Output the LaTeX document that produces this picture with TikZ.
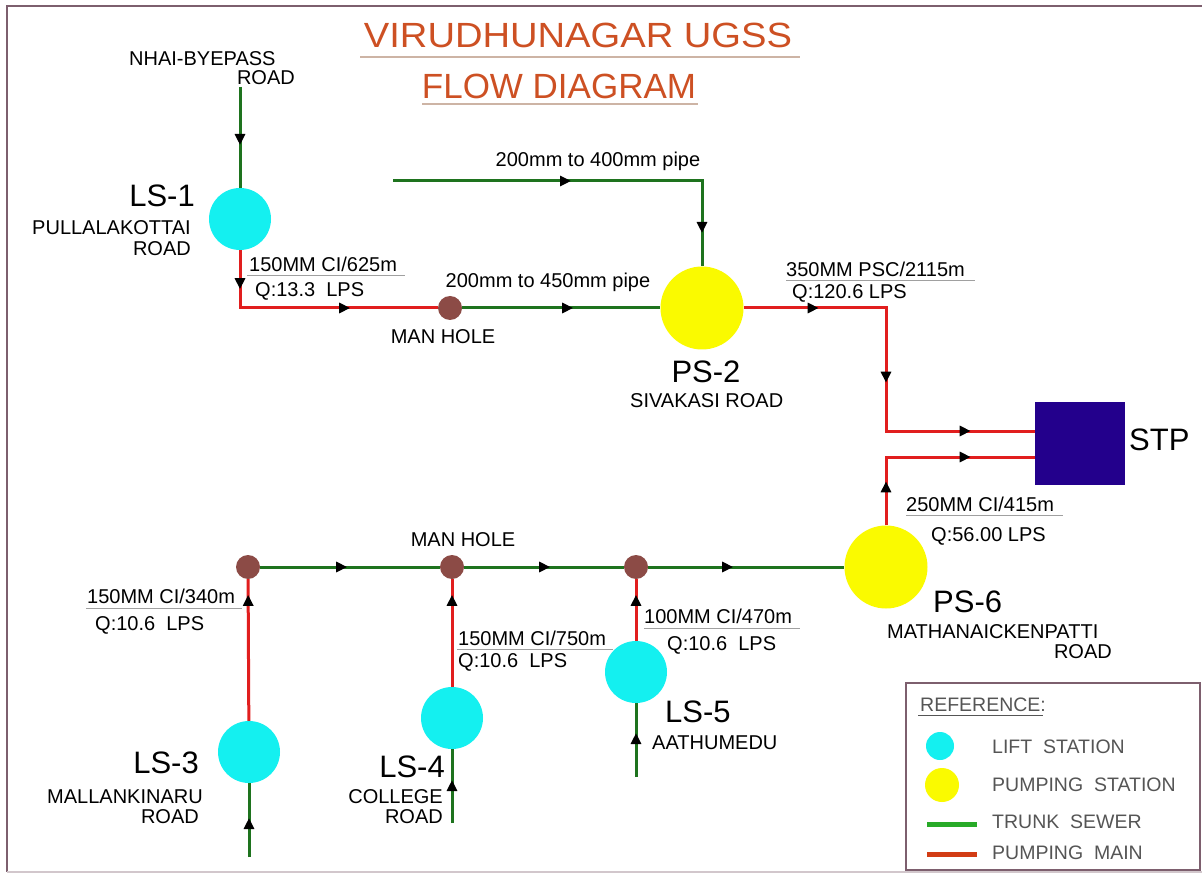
\documentclass[tikz,border=0pt]{standalone}
\usepackage{fontspec}
\usepackage{graphicx}
\setmainfont{Liberation Sans}
\usetikzlibrary{decorations.markings,arrows.meta}
\definecolor{trunkc}{RGB}{30,115,30}
\definecolor{mainc}{RGB}{225,30,30}
\definecolor{liftc}{RGB}{20,240,240}
\definecolor{pumpc}{RGB}{250,250,0}
\definecolor{holec}{RGB}{140,75,70}
\definecolor{stpc}{RGB}{35,0,140}
\definecolor{titlec}{RGB}{205,80,35}
\definecolor{tulc}{RGB}{205,180,165}
\definecolor{ulc}{RGB}{160,160,160}
\definecolor{framec}{RGB}{125,95,110}
\definecolor{legtext}{RGB}{85,85,85}
\definecolor{legg}{RGB}{40,170,40}
\definecolor{legr}{RGB}{210,60,20}
\newcommand\fsz[1]{\fontsize{#1}{#1}\selectfont}
\begin{document}
\begin{tikzpicture}[x=1pt,y=-1pt,
 pipe/.style={line width=3pt},
 trunk/.style={pipe,draw=trunkc},
 pmain/.style={pipe,draw=mainc},
 mk/.style={postaction={decorate,decoration={markings,mark=at position #1 with {\arrow{Triangle[length=11pt,width=10pt,color=black]}}}}},
 lift/.style={circle,fill=liftc,minimum size=62pt,inner sep=0pt},
 pump/.style={circle,fill=pumpc,minimum size=83pt,inner sep=0pt},
 hole/.style={circle,fill=holec,minimum size=24pt,inner sep=0pt},
 lbl/.style={inner sep=0pt,font=\fsz{20}},
 big/.style={inner sep=0pt,font=\fsz{31}},
 ttl/.style={inner sep=0pt,font=\fsz{35},text=titlec},
 leg/.style={inner sep=0pt,font=\fsz{19.5},text=legtext},
 uline/.style={draw=ulc,line width=1pt},
 tline/.style={draw=tulc,line width=1.2pt},
]
\useasboundingbox (0,0) rectangle (1202,874);
\fill[white] (0,0) rectangle (1202,874);
% frame
\draw[framec,line width=2pt] (1202,6) -- (7,6) -- (7,872);
\draw[framec!35,line width=1.5pt] (7,872) -- (1202,872);

% title
\node[ttl,anchor=base] (title1) at (578,48) {\scalebox{1.09}[1]{VIRUDHUNAGAR UGSS}};
\draw[tline] (360,57) -- (800,57);
\node[ttl,anchor=base] (title2) at (559,99) {FLOW DIAGRAM};
\draw[tline] (422,104) -- (698,104);

% stations
\node[lift] (ls1) at (240,219) {};
\node[hole] (mh1) at (450,308) {};
\node[pump] (ps2) at (702,308) {};
\node[fill=stpc,minimum width=90pt,minimum height=83pt,inner sep=0pt] (stp) at (1080,443.5) {};
\node[pump] (ps6) at (886,567) {};
\node[hole] (mhA) at (248,567) {};
\node[hole] (mhB) at (452,567) {};
\node[hole] (mhC) at (636,567) {};
\node[lift] (ls3) at (249,752) {};
\node[lift] (ls4) at (452,718) {};
\node[lift] (ls5) at (636,672) {};

\coordinate (nhai) at (240,87);
\coordinate (c1) at (240,308);
\coordinate (g2s) at (393,181);
\coordinate (g2c) at (702,181);
\coordinate (c2) at (886,308);
\coordinate (in1) at ([yshift=12.5pt]stp.west);
\coordinate (in2) at ([yshift=-13.5pt]stp.west);
\coordinate (b3) at (249,857);
\coordinate (b4) at (452,823);
\coordinate (b5) at (636,777);

% connectors
\draw[trunk,mk=58pt] (nhai) -- (ls1);
\draw[pmain,mk=39pt,mk=168pt] (ls1) -- (c1) -- (mh1);
\draw[trunk,mk=111pt] (mh1) -- (ps2);
\draw[trunk,mk=178pt,mk=361pt] (g2s) -- (g2c) -- (ps2);
\draw[pmain,mk=75pt,mk=217pt,mk=350pt] (ps2) -- (c2) |- (in1);
\draw[pmain,mk=44pt,mk=153pt] (ps6) |- (in2);
\draw[trunk,mk=87pt] (mhA) -- (mhB);
\draw[trunk,mk=86pt] (mhB) -- (mhC);
\draw[trunk,mk=85pt] (mhC) -- (ps6);
\draw[pmain,mk=126pt] (ls3) -- (mhA);
\draw[trunk,mk=39pt] (b3) -- (ls3);
\draw[pmain,mk=92pt] (ls4) -- (mhB);
\draw[trunk,mk=43pt] (b4) -- (ls4);
\draw[pmain,mk=46pt] (ls5) -- (mhC);
\draw[trunk,mk=44pt] (b5) -- (ls5);

% labels
\node[lbl,anchor=base west] (tnhai) at (129,66) {NHAI-BYEPASS};
\node[lbl,anchor=base east] (tnhaib) at (295,85) {ROAD};
\node[big,anchor=base east] (tls1) at (195,207) {LS-1};
\node[lbl,anchor=base east] (tls1a) at (191,235) {PULLALAKOTTAI};
\node[lbl,anchor=base east] (tls1b) at (191,256) {ROAD};
\node[lbl,anchor=base west] (p1a) at (249,272) {150MM CI/625m};
\draw[uline] (247,276) -- (405,276);
\node[lbl,anchor=base west] (p1b) at (255,297) {Q:13.3\ \ LPS};
\node[lbl,anchor=base] (tp45) at (548,288) {200mm to 450mm pipe};
\node[lbl,anchor=base] (tmh1) at (443,344) {MAN HOLE};
\node[big,anchor=base] (tps2) at (706,383) {PS-2};
\node[lbl,anchor=base west] (tps2a) at (630,407) {SIVAKASI ROAD};
\node[lbl,anchor=base] (tp40) at (598,167) {200mm to 400mm pipe};
\node[lbl,anchor=base west] (p2a) at (786,277) {350MM PSC/2115m};
\draw[uline] (786,281) -- (975,281);
\node[lbl,anchor=base west] (p2b) at (792,299) {Q:120.6 LPS};
\node[big,anchor=base west] (tstp) at (1129,450) {STP};
\node[lbl,anchor=base west] (p6a) at (906,511) {250MM CI/415m};
\draw[uline] (906,515) -- (1063,515);
\node[lbl,anchor=base west] (p6b) at (931,541) {Q:56.00 LPS};
\node[big,anchor=base west] (tps6) at (933,612) {PS-6};
\node[lbl,anchor=base west] (tps6a) at (887,638) {MATHANAICKENPATTI};
\node[lbl,anchor=base east] (tps6b) at (1112,658) {ROAD};
\node[lbl,anchor=base] (tmhB) at (463,546) {MAN HOLE};
\node[lbl,anchor=base west] (p3a) at (87,603) {150MM CI/340m};
\draw[uline] (86,608) -- (242,608);
\node[lbl,anchor=base west] (p3b) at (95,630) {Q:10.6\ \ LPS};
\node[big,anchor=base east] (tls3) at (199,773) {LS-3};
\node[lbl,anchor=base east] (tls3a) at (203,803) {MALLANKINARU};
\node[lbl,anchor=base east] (tls3b) at (199,823) {ROAD};
\node[big,anchor=base east] (tls4) at (445,777) {LS-4};
\node[lbl,anchor=base east] (tls4a) at (443,803) {COLLEGE};
\node[lbl,anchor=base east] (tls4b) at (443,823) {ROAD};
\node[lbl,anchor=base west] (p4a) at (458,645) {150MM CI/750m};
\draw[uline] (457,649) -- (613,649);
\node[lbl,anchor=base west] (p4b) at (458,667) {Q:10.6\ \ LPS};
\node[lbl,anchor=base west] (p5a) at (644,623) {100MM CI/470m};
\draw[uline] (644,628) -- (800,628);
\node[lbl,anchor=base west] (p5b) at (667,650) {Q:10.6\ \ LPS};
\node[big,anchor=base west] (tls5) at (665,722) {LS-5};
\node[lbl,anchor=base west] (tls5a) at (652,749) {AATHUMEDU};

% legend
\node[draw=framec,line width=2.5pt,minimum width=294pt,minimum height=187pt,inner sep=0pt] (legbox) at (1053,776.5) {};
\node[leg,anchor=base west] (lg0) at (920,711) {REFERENCE:};
\draw[draw=legtext,line width=1pt] (918,715) -- (1043,715);
\node[circle,fill=liftc,minimum size=28pt,inner sep=0pt] (lgc) at (940,746) {};
\node[leg,anchor=base west] (lg1) at (992,753) {LIFT\ \ STATION};
\node[circle,fill=pumpc,minimum size=34pt,inner sep=0pt] (lgy) at (942,785) {};
\node[leg,anchor=base west] (lg2) at (992,791) {PUMPING\ \ STATION};
\draw[draw=legg,line width=5pt] (927,824) -- (977,824);
\node[leg,anchor=base west] (lg3) at (992,828) {TRUNK\ \ SEWER};
\draw[draw=legr,line width=5pt] (927,854) -- (977,854);
\node[leg,anchor=base west] (lg4) at (992,859) {PUMPING\ \ MAIN};
\end{tikzpicture}
\end{document}
